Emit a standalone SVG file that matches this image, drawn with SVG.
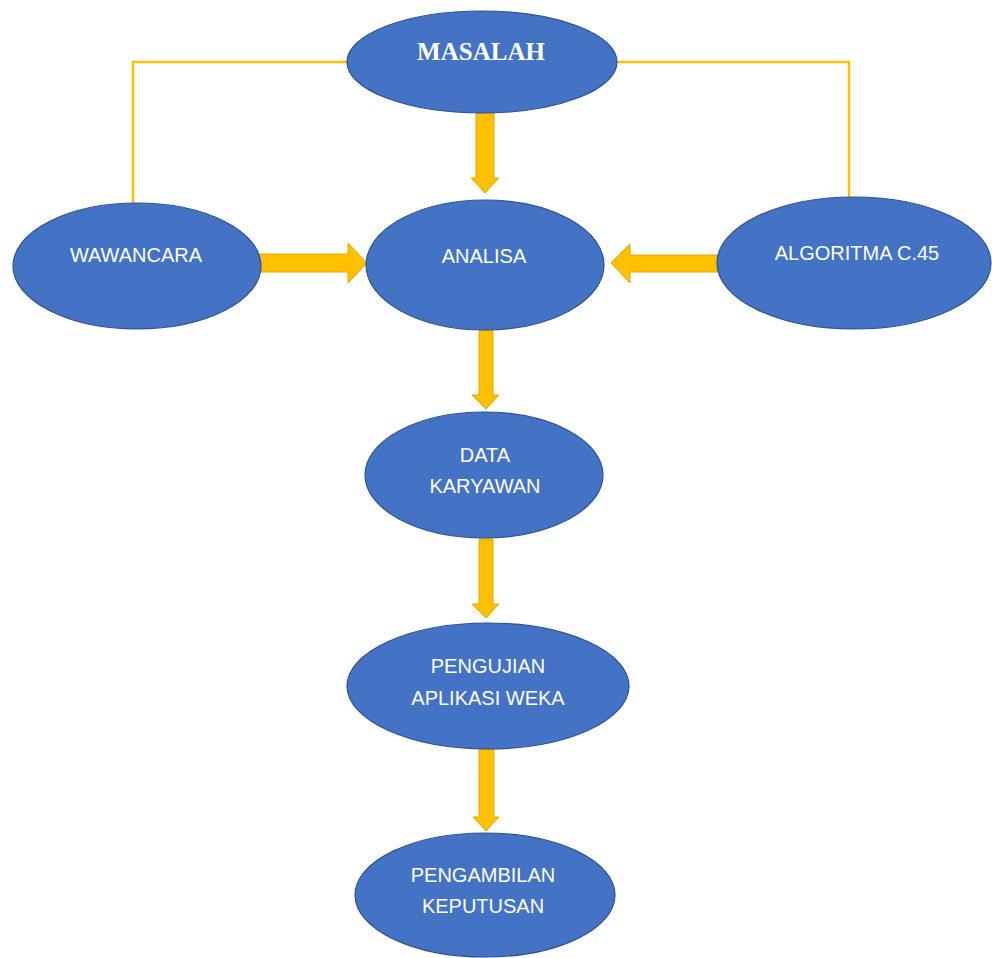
<svg xmlns="http://www.w3.org/2000/svg" width="992" height="958" viewBox="0 0 992 958">
<style>
.node{fill:#4472C4;stroke:#2F528F;stroke-width:1.2}
.lbl{font-family:"Liberation Sans",Arial,sans-serif;font-size:20px;fill:#FFFFFF;text-anchor:middle}
.title{font-family:"Liberation Serif","Times New Roman",serif;font-size:25px;font-weight:bold;fill:#FFFFFF;text-anchor:middle}
.line{fill:none;stroke:#FFC000;stroke-width:2.5}
.arrow{fill:#FFC000;stroke:#E0A800;stroke-width:1}
</style>
<rect width="992" height="958" fill="#FFFFFF"/>
<g id="connectors">
<polyline class="line" points="347,62 133,62 133,203"/>
<polyline class="line" points="617,62 849,62 849,197"/>
<polygon class="arrow" points="476,113 494,113 494,178 499,178 485,193 471,178 476,178"/>
<polygon class="arrow" points="258,254 348,254 348,243 367,263 348,283 348,272 258,272"/>
<polygon class="arrow" points="718,255 630,255 630,244 611,263 630,283 630,272 718,272"/>
<polygon class="arrow" points="479,330 493,330 493,395 499,395 486,409 472,395 479,395"/>
<polygon class="arrow" points="479,539 493,539 493,604 499,604 486,618 472,604 479,604"/>
<polygon class="arrow" points="479,749 494,749 494,817 499,817 486,831 473,817 479,817"/>
</g>
<g id="masalah">
<ellipse class="node" cx="482" cy="62" rx="135" ry="51"/>
<text class="title" x="481" y="60">MASALAH</text>
</g>
<g id="wawancara">
<ellipse class="node" cx="137" cy="266" rx="124" ry="63"/>
<text class="lbl" x="136" y="262">WAWANCARA</text>
</g>
<g id="analisa">
<ellipse class="node" cx="485" cy="265" rx="119" ry="65"/>
<text class="lbl" x="484" y="263">ANALISA</text>
</g>
<g id="algoritma">
<ellipse class="node" cx="854" cy="263" rx="137" ry="66"/>
<text class="lbl" x="857" y="260">ALGORITMA C.45</text>
</g>
<g id="data-karyawan">
<ellipse class="node" cx="484" cy="475" rx="119" ry="63"/>
<text class="lbl" x="485" y="462">DATA</text>
<text class="lbl" x="485" y="493">KARYAWAN</text>
</g>
<g id="pengujian">
<ellipse class="node" cx="488" cy="686" rx="141" ry="63"/>
<text class="lbl" x="488" y="673">PENGUJIAN</text>
<text class="lbl" x="488" y="705">APLIKASI WEKA</text>
</g>
<g id="pengambilan">
<ellipse class="node" cx="485" cy="895" rx="130" ry="62"/>
<text class="lbl" x="483" y="882">PENGAMBILAN</text>
<text class="lbl" x="483" y="913">KEPUTUSAN</text>
</g>
</svg>
